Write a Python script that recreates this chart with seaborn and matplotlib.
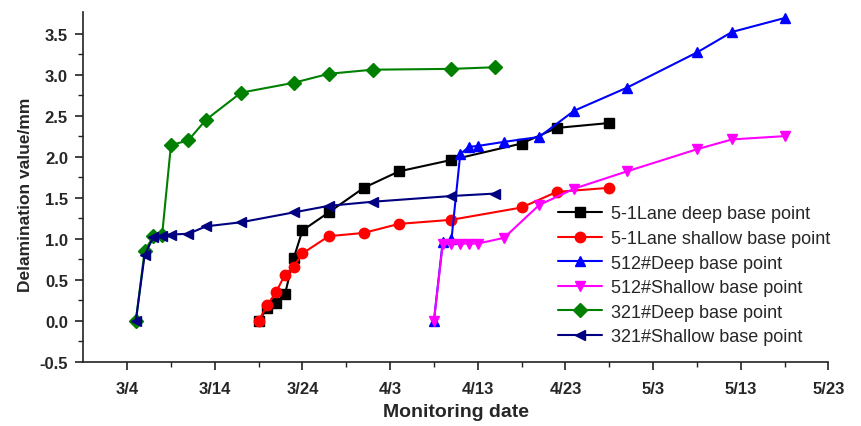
import matplotlib
matplotlib.use("Agg")
import matplotlib.pyplot as plt
from matplotlib import font_manager
import seaborn as sns
import pandas as pd
import numpy as np

YEAR = "2019"

# ---- data -------------------------------------------------------------
lane_dates = ["3/19", "3/20", "3/21", "3/22", "3/23", "3/24", "3/27", "3/31",
              "4/4", "4/10", "4/18", "4/22", "4/28"]
lane_deep = [0.00, 0.15, 0.22, 0.32, 0.76, 1.10, 1.32, 1.62, 1.82, 1.96, 2.16, 2.35, 2.41]
lane_shallow = [0.00, 0.19, 0.35, 0.56, 0.66, 0.82, 1.03, 1.07, 1.18, 1.23, 1.38, 1.57, 1.62]

p512_dates = ["4/8", "4/9", "4/10", "4/11", "4/12", "4/13", "4/16", "4/20",
              "4/24", "4/30", "5/8", "5/12", "5/18"]
p512_deep = [0.00, 0.96, 0.99, 2.03, 2.12, 2.13, 2.18, 2.24, 2.56, 2.84, 3.27, 3.52, 3.69]
p512_shallow = [0.00, 0.93, 0.94, 0.94, 0.94, 0.94, 1.01, 1.41, 1.61, 1.82, 2.09, 2.21, 2.25]

p321_dates = ["3/5", "3/6", "3/7", "3/8", "3/9", "3/11", "3/13", "3/17",
              "3/23", "3/27", "4/1", "4/10", "4/15"]
p321_deep = [0.00, 0.85, 1.03, 1.05, 2.14, 2.20, 2.45, 2.78, 2.90, 3.01, 3.06, 3.07, 3.09]
p321_shallow = [0.00, 0.80, 1.02, 1.03, 1.05, 1.06, 1.15, 1.20, 1.32, 1.40, 1.45, 1.52, 1.55]

series_names = ["5-1Lane deep base point", "5-1Lane shallow base point",
                "512#Deep base point", "512#Shallow base point",
                "321#Deep base point", "321#Shallow base point"]

x_tick_labels = ["3/4", "3/14", "3/24", "4/3", "4/13", "4/23", "5/3", "5/13", "5/23"]
y_ticks = [-0.5, 0.0, 0.5, 1.0, 1.5, 2.0, 2.5, 3.0, 3.5]

# ---- styling ---------------------------------------------------------
colors = ["#000000", "#ff0000", "#0000ff", "#ff00ff", "#008000", "#000080"]
markers = ["s", "o", "^", "v", "D", "<"]


def to_dt(lst):
    return pd.to_datetime([YEAR + "/" + d for d in lst], format="%Y/%m/%d")


sns.set_theme(style="ticks")
plt.rcParams["font.family"] = ["Liberation Sans", "DejaVu Sans"]

installed = {f.name for f in font_manager.fontManager.ttflist}
if "Liberation Sans Narrow" in installed:
    xlabel_font = dict(family=["Liberation Sans Narrow", "Liberation Sans"], fontsize=16.5)
else:
    xlabel_font = dict(family=["Liberation Sans", "DejaVu Sans"], fontsize=14)

fig = plt.figure(figsize=(8.61, 4.27), dpi=100)
ax = fig.add_axes([0.0967, 0.1506, 0.8655, 0.8183])

all_series = [
    (lane_dates, lane_deep),
    (lane_dates, lane_shallow),
    (p512_dates, p512_deep),
    (p512_dates, p512_shallow),
    (p321_dates, p321_deep),
    (p321_dates, p321_shallow),
]

for (dts, vals), name, c, m in zip(all_series, series_names, colors, markers):
    df = pd.DataFrame({"date": to_dt(dts), "value": vals})
    sns.lineplot(data=df, x="date", y="value", ax=ax, color=c, marker=m,
                 markersize=7.5 if m != "D" else 7, markeredgecolor=c,
                 markeredgewidth=1, linewidth=1.5, label=name,
                 estimator=None, sort=False)

# axes limits / ticks
tick_dt = to_dt(x_tick_labels)
ax.set_xlim(tick_dt[0] - pd.Timedelta(days=5), tick_dt[-1])
ax.set_ylim(-0.5, 3.76)
ax.set_xticks(tick_dt)
ax.set_xticklabels(x_tick_labels)
minor_dt = tick_dt[:-1] + pd.Timedelta(days=5)
ax.set_xticks(minor_dt, minor=True)
ax.set_yticks(y_ticks)
ax.set_yticklabels([f"{v:.1f}" for v in y_ticks])
ax.set_yticks(np.array(y_ticks[:-1]) + 0.25, minor=True)

ax.tick_params(axis="both", which="major", direction="out", length=6, width=1.2,
               color="#222222", pad=5)
ax.tick_params(axis="both", which="minor", direction="out", length=3.5, width=1.0,
               color="#222222")
ax.tick_params(axis="x", which="major", pad=8, labelsize=12)
ax.tick_params(axis="y", which="major", labelsize=12)
for lab in ax.get_xticklabels() + ax.get_yticklabels():
    lab.set_fontweight("bold")

sns.despine(ax=ax)
for sp in ["left", "bottom"]:
    ax.spines[sp].set_linewidth(1.2)
    ax.spines[sp].set_color("#222222")

ax.set_xlabel("Monitoring date", fontweight="bold", labelpad=5, **xlabel_font)
ax.set_ylabel("Delamination value/mm", fontsize=12.5, fontweight="bold")
ax.yaxis.set_label_coords(-0.067, 0.48)
ax.grid(False)

leg = ax.legend(loc="upper left", bbox_to_anchor=(0.628, 0.468), frameon=False,
                fontsize=13, handlelength=2.4, handletextpad=0.5,
                labelspacing=0.42, borderaxespad=0.0)

fig.savefig("out.png", dpi=100)
